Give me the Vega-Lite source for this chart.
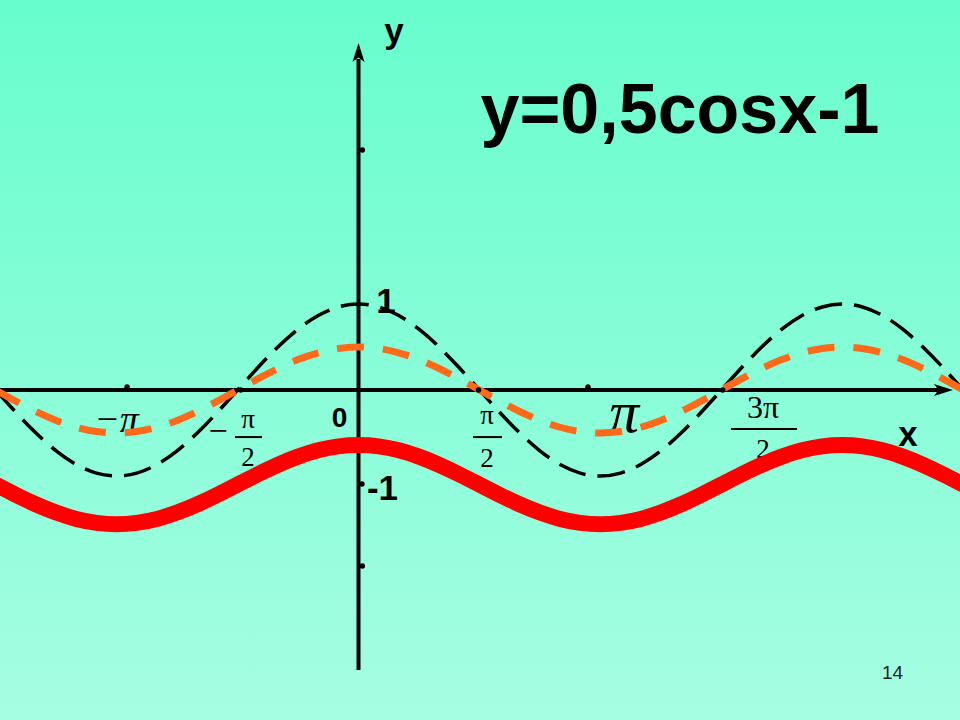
{
  "$schema": "https://vega.github.io/schema/vega-lite/v6.json",
  "width": 960,
  "height": 720,
  "autosize": {"type": "fit", "contains": "padding"},
  "padding": 0,
  "background": "#88FDD8",
  "config": {"view": {"stroke": null}},
  "datasets": {
    "bg": [{"x": -5, "x2": 8.2, "y": -4.2, "y2": 5}],
    "axes": [
      {"x": -4.8, "x2": 7.6, "y": 0, "y2": 0},
      {"x": 0, "x2": 0, "y": -3.256, "y2": 3.85}
    ],
    "arrowUp": [{"x": 0, "y": 3.919}],
    "arrowRight": [{"x": 7.591, "y": 0}],
    "cosx": [
      {"x": -4.7124, "y": 0}, {"x": -4.4506, "y": -0.2588}, {"x": -4.1888, "y": -0.5}, {"x": -3.927, "y": -0.7071},
      {"x": -3.6652, "y": -0.866}, {"x": -3.4034, "y": -0.9659}, {"x": -3.1416, "y": -1}, {"x": -2.8798, "y": -0.9659},
      {"x": -2.618, "y": -0.866}, {"x": -2.3562, "y": -0.7071}, {"x": -2.0944, "y": -0.5}, {"x": -1.8326, "y": -0.2588},
      {"x": -1.5708, "y": 0}, {"x": -1.309, "y": 0.2588}, {"x": -1.0472, "y": 0.5}, {"x": -0.7854, "y": 0.7071},
      {"x": -0.5236, "y": 0.866}, {"x": -0.2618, "y": 0.9659}, {"x": 0, "y": 1}, {"x": 0.2618, "y": 0.9659},
      {"x": 0.5236, "y": 0.866}, {"x": 0.7854, "y": 0.7071}, {"x": 1.0472, "y": 0.5}, {"x": 1.309, "y": 0.2588},
      {"x": 1.5708, "y": 0}, {"x": 1.8326, "y": -0.2588}, {"x": 2.0944, "y": -0.5}, {"x": 2.3562, "y": -0.7071},
      {"x": 2.618, "y": -0.866}, {"x": 2.8798, "y": -0.9659}, {"x": 3.1416, "y": -1}, {"x": 3.4034, "y": -0.9659},
      {"x": 3.6652, "y": -0.866}, {"x": 3.927, "y": -0.7071}, {"x": 4.1888, "y": -0.5}, {"x": 4.4506, "y": -0.2588},
      {"x": 4.7124, "y": 0}, {"x": 4.9742, "y": 0.2588}, {"x": 5.236, "y": 0.5}, {"x": 5.4978, "y": 0.7071},
      {"x": 5.7596, "y": 0.866}, {"x": 6.0214, "y": 0.9659}, {"x": 6.2832, "y": 1}, {"x": 6.545, "y": 0.9659},
      {"x": 6.8068, "y": 0.866}, {"x": 7.0686, "y": 0.7071}, {"x": 7.3304, "y": 0.5}, {"x": 7.5922, "y": 0.2588},
      {"x": 7.854, "y": 0}
    ],
    "halfcos": [
      {"x": -4.7124, "y": 0}, {"x": -4.4506, "y": -0.1294}, {"x": -4.1888, "y": -0.25}, {"x": -3.927, "y": -0.3536},
      {"x": -3.6652, "y": -0.433}, {"x": -3.4034, "y": -0.483}, {"x": -3.1416, "y": -0.5}, {"x": -2.8798, "y": -0.483},
      {"x": -2.618, "y": -0.433}, {"x": -2.3562, "y": -0.3536}, {"x": -2.0944, "y": -0.25}, {"x": -1.8326, "y": -0.1294},
      {"x": -1.5708, "y": 0}, {"x": -1.309, "y": 0.1294}, {"x": -1.0472, "y": 0.25}, {"x": -0.7854, "y": 0.3536},
      {"x": -0.5236, "y": 0.433}, {"x": -0.2618, "y": 0.483}, {"x": 0, "y": 0.5}, {"x": 0.2618, "y": 0.483},
      {"x": 0.5236, "y": 0.433}, {"x": 0.7854, "y": 0.3536}, {"x": 1.0472, "y": 0.25}, {"x": 1.309, "y": 0.1294},
      {"x": 1.5708, "y": 0}, {"x": 1.8326, "y": -0.1294}, {"x": 2.0944, "y": -0.25}, {"x": 2.3562, "y": -0.3536},
      {"x": 2.618, "y": -0.433}, {"x": 2.8798, "y": -0.483}, {"x": 3.1416, "y": -0.5}, {"x": 3.4034, "y": -0.483},
      {"x": 3.6652, "y": -0.433}, {"x": 3.927, "y": -0.3536}, {"x": 4.1888, "y": -0.25}, {"x": 4.4506, "y": -0.1294},
      {"x": 4.7124, "y": 0}, {"x": 4.9742, "y": 0.1294}, {"x": 5.236, "y": 0.25}, {"x": 5.4978, "y": 0.3536},
      {"x": 5.7596, "y": 0.433}, {"x": 6.0214, "y": 0.483}, {"x": 6.2832, "y": 0.5}, {"x": 6.545, "y": 0.483},
      {"x": 6.8068, "y": 0.433}, {"x": 7.0686, "y": 0.3536}, {"x": 7.3304, "y": 0.25}, {"x": 7.5922, "y": 0.1294},
      {"x": 7.854, "y": 0}
    ],
    "red": [
      {"x": -4.7124, "y": -1.1}, {"x": -4.4506, "y": -1.219}, {"x": -4.1888, "y": -1.33}, {"x": -3.927, "y": -1.4253},
      {"x": -3.6652, "y": -1.4984}, {"x": -3.4034, "y": -1.5443}, {"x": -3.1416, "y": -1.56}, {"x": -2.8798, "y": -1.5443},
      {"x": -2.618, "y": -1.4984}, {"x": -2.3562, "y": -1.4253}, {"x": -2.0944, "y": -1.33}, {"x": -1.8326, "y": -1.219},
      {"x": -1.5708, "y": -1.1}, {"x": -1.309, "y": -0.981}, {"x": -1.0472, "y": -0.87}, {"x": -0.7854, "y": -0.7747},
      {"x": -0.5236, "y": -0.7016}, {"x": -0.2618, "y": -0.6557}, {"x": 0, "y": -0.64}, {"x": 0.2618, "y": -0.6557},
      {"x": 0.5236, "y": -0.7016}, {"x": 0.7854, "y": -0.7747}, {"x": 1.0472, "y": -0.87}, {"x": 1.309, "y": -0.981},
      {"x": 1.5708, "y": -1.1}, {"x": 1.8326, "y": -1.219}, {"x": 2.0944, "y": -1.33}, {"x": 2.3562, "y": -1.4253},
      {"x": 2.618, "y": -1.4984}, {"x": 2.8798, "y": -1.5443}, {"x": 3.1416, "y": -1.56}, {"x": 3.4034, "y": -1.5443},
      {"x": 3.6652, "y": -1.4984}, {"x": 3.927, "y": -1.4253}, {"x": 4.1888, "y": -1.33}, {"x": 4.4506, "y": -1.219},
      {"x": 4.7124, "y": -1.1}, {"x": 4.9742, "y": -0.981}, {"x": 5.236, "y": -0.87}, {"x": 5.4978, "y": -0.7747},
      {"x": 5.7596, "y": -0.7016}, {"x": 6.0214, "y": -0.6557}, {"x": 6.2832, "y": -0.64}, {"x": 6.545, "y": -0.6557},
      {"x": 6.8068, "y": -0.7016}, {"x": 7.0686, "y": -0.7747}, {"x": 7.3304, "y": -0.87}, {"x": 7.5922, "y": -0.981},
      {"x": 7.854, "y": -1.1}
    ],
    "dots": [
      {"x": 0.05, "y": 2.79}, {"x": 0.05, "y": -2.047}, {"x": -3.006, "y": 0.035}, {"x": 2.98, "y": 0.035},
      {"x": -1.53, "y": 0}, {"x": 1.558, "y": 0}, {"x": 4.73, "y": 0}, {"x": 0.045, "y": -1.093}
    ],
    "bars": [
      {"x": -1.604, "x2": -1.253, "y": -0.547},
      {"x": 1.487, "x2": 1.864, "y": -0.547},
      {"x": 4.838, "x2": 5.695, "y": -0.453}
    ],
    "title": [{"x": 4.175, "y": 2.988, "t": "y=0,5cosx-1"}],
    "boldLabels": [
      {"x": 0.461, "y": 4.035, "t": "y"},
      {"x": 7.136, "y": -0.651, "t": "x"},
      {"x": 0.357, "y": 0.895, "t": "1"},
      {"x": 0.312, "y": -1.279, "t": "-1"}
    ],
    "zero": [{"x": -0.247, "y": -0.43, "t": "0"}],
    "minusPi": [{"x": -3.143, "y": -0.488, "t": "−π"}],
    "fracMinus": [{"x": -1.825, "y": -0.599, "t": "−"}],
    "fracParts": [
      {"x": -1.435, "y": -0.442, "t": "π"},
      {"x": -1.435, "y": -0.884, "t": "2"},
      {"x": 1.669, "y": -0.395, "t": "π"},
      {"x": 1.669, "y": -0.895, "t": "2"},
      {"x": 5.253, "y": -0.79, "t": "2"}
    ],
    "threePi": [{"x": 5.253, "y": -0.326, "t": "3π"}],
    "bigPi": [{"x": 3.448, "y": -0.488, "t": "π"}],
    "page": [{"x": 6.935, "y": -3.36, "t": "14"}]
  },
  "encoding": {
    "x": {"field": "x", "type": "quantitative", "scale": {"domain": [-4.656, 7.812], "nice": false, "zero": false}, "axis": null},
    "y": {"field": "y", "type": "quantitative", "scale": {"domain": [-3.837, 4.535], "nice": false, "zero": false}, "axis": null}
  },
  "layer": [
    {
      "data": {"name": "bg"},
      "mark": {
        "type": "rect", "clip": true,
        "fill": {"gradient": "linear", "x1": 0, "y1": 0, "x2": 0, "y2": 1,
          "stops": [{"offset": 0, "color": "#64FDCB"}, {"offset": 1, "color": "#A9FDE3"}]}
      },
      "encoding": {"x2": {"field": "x2"}, "y2": {"field": "y2"}}
    },
    {
      "data": {"name": "axes"},
      "mark": {"type": "rule", "color": "#000000", "strokeWidth": 4, "clip": true},
      "encoding": {"x2": {"field": "x2"}, "y2": {"field": "y2"}}
    },
    {
      "data": {"name": "arrowUp"},
      "mark": {"type": "point", "filled": true, "color": "#000000", "opacity": 1, "size": 400, "shape": "M0,-1L0.6,0.9L0,0.45L-0.6,0.9Z"}
    },
    {
      "data": {"name": "arrowRight"},
      "mark": {"type": "point", "filled": true, "color": "#000000", "opacity": 1, "size": 400, "shape": "M1,0L-0.9,-0.6L-0.45,0L-0.9,0.6Z"}
    },
    {
      "data": {"name": "bars"},
      "mark": {"type": "rule", "color": "#000000", "strokeWidth": 2},
      "encoding": {"x2": {"field": "x2"}}
    },
    {
      "data": {"name": "fracParts"},
      "mark": {"type": "text", "font": "Liberation Serif", "fontSize": 27, "color": "#000000", "align": "center", "baseline": "alphabetic"},
      "encoding": {"text": {"field": "t"}}
    },
    {
      "data": {"name": "fracMinus"},
      "mark": {"type": "text", "font": "Liberation Serif", "fontSize": 34, "color": "#000000", "align": "center", "baseline": "alphabetic"},
      "encoding": {"text": {"field": "t"}}
    },
    {
      "data": {"name": "threePi"},
      "mark": {"type": "text", "font": "Liberation Serif", "fontSize": 32, "color": "#000000", "align": "center", "baseline": "alphabetic"},
      "encoding": {"text": {"field": "t"}}
    },
    {
      "data": {"name": "minusPi"},
      "mark": {"type": "text", "font": "Liberation Serif", "fontStyle": "italic", "fontSize": 38, "color": "#000000", "align": "center", "baseline": "alphabetic"},
      "encoding": {"text": {"field": "t"}}
    },
    {
      "data": {"name": "bigPi"},
      "mark": {"type": "text", "font": "Liberation Serif", "fontStyle": "italic", "fontSize": 60, "color": "#000000", "align": "center", "baseline": "alphabetic"},
      "encoding": {"text": {"field": "t"}}
    },
    {
      "data": {"name": "cosx"},
      "mark": {"type": "line", "color": "#000000", "strokeWidth": 3.5, "strokeDash": [28, 12], "strokeCap": "butt", "interpolate": "natural", "clip": true}
    },
    {
      "data": {"name": "halfcos"},
      "mark": {"type": "line", "color": "#FF6A1A", "strokeWidth": 7, "strokeDash": [27, 19], "strokeCap": "butt", "interpolate": "natural", "clip": true}
    },
    {
      "data": {"name": "red"},
      "mark": {"type": "line", "color": "#FF0000", "strokeWidth": 16, "strokeCap": "butt", "interpolate": "natural", "clip": true}
    },
    {
      "data": {"name": "dots"},
      "mark": {"type": "point", "filled": true, "color": "#000000", "opacity": 1, "size": 30, "shape": "circle"}
    },
    {
      "data": {"name": "title"},
      "mark": {"type": "text", "font": "Liberation Sans", "fontWeight": "bold", "fontSize": 70, "color": "#000000", "align": "center", "baseline": "alphabetic"},
      "encoding": {"text": {"field": "t"}}
    },
    {
      "data": {"name": "boldLabels"},
      "mark": {"type": "text", "font": "Liberation Sans", "fontWeight": "bold", "fontSize": 35, "color": "#000000", "align": "center", "baseline": "alphabetic"},
      "encoding": {"text": {"field": "t"}}
    },
    {
      "data": {"name": "zero"},
      "mark": {"type": "text", "font": "Liberation Sans", "fontWeight": "bold", "fontSize": 28, "color": "#000000", "align": "center", "baseline": "alphabetic"},
      "encoding": {"text": {"field": "t"}}
    },
    {
      "data": {"name": "page"},
      "mark": {"type": "text", "font": "Liberation Sans", "fontSize": 19, "color": "#222222", "align": "center", "baseline": "alphabetic"},
      "encoding": {"text": {"field": "t"}}
    }
  ]
}
